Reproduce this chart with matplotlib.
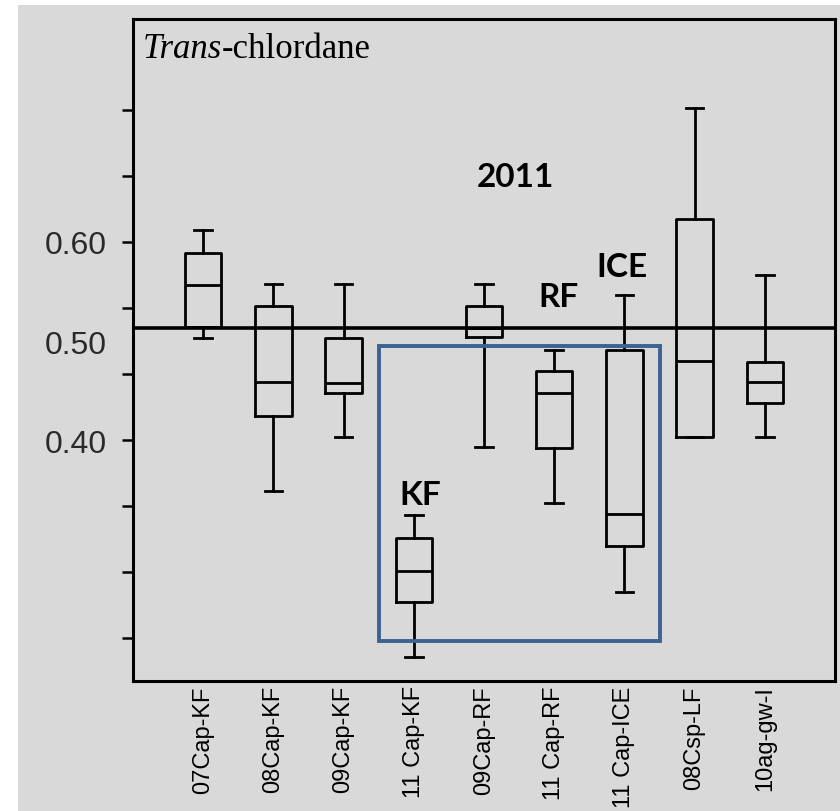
import numpy as np
import matplotlib
matplotlib.use("Agg")
import matplotlib.pyplot as plt
from matplotlib.patches import Rectangle

# Box statistics
labels = ['07Cap-KF', '08Cap-KF', '09Cap-KF', '11 Cap-KF', '09Cap-RF',
          '11 Cap-RF', '11 Cap-ICE', '08Csp-LF', '10ag-gw-I']
whislo = [0.503, 0.349, 0.403, 0.181, 0.393, 0.337, 0.247, 0.403, 0.403]
q1 = [0.514, 0.424, 0.448, 0.237, 0.504, 0.392, 0.293, 0.403, 0.438]
med = [0.557, 0.459, 0.458, 0.268, 0.513, 0.448, 0.3255, 0.480, 0.459]
q3 = [0.589, 0.535, 0.503, 0.301, 0.535, 0.470, 0.491, 0.623, 0.479]
whishi = [0.612, 0.558, 0.558, 0.3245, 0.558, 0.491, 0.547, 0.735, 0.567]

ref_level = 0.513
ytick_marks = [0.2, 0.2667, 0.3333, 0.4, 0.4667, 0.5333, 0.6, 0.6667, 0.7333]
ytick_labels = ['0.40', '0.50', '0.60']
ytick_label_pos = [0.4, 0.5, 0.6]

# group annotations
notes = ['2011', 'KF', 'RF', 'ICE']
note_x = [5.45, 4.09, 6.06, 6.97]
note_y = [0.666, 0.345, 0.5445, 0.575]

# highlighted 2011 region
hl_x = (3.51, 7.50)
hl_y = (0.197, 0.495)

grey = '#d9d9d9'

fig = plt.figure(figsize=(8.4, 8.12), dpi=100, facecolor='white')
fig.patches.append(Rectangle((18 / 840, 0), 1, 1 - 6 / 812, transform=fig.transFigure,
                             facecolor=grey, edgecolor='none', zorder=-10))
ax = fig.add_axes([133 / 840, 1 - 682 / 812, 702 / 840, 662 / 812])
ax.set_facecolor(grey)

stats = []
for i in range(len(labels)):
    stats.append(dict(label=labels[i], whislo=whislo[i], q1=q1[i], med=med[i],
                      q3=q3[i], whishi=whishi[i], fliers=[]))

pos = np.arange(1, len(labels) + 1)
lw = 2.0
ax.bxp(stats, positions=pos, widths=0.52, capwidths=0.25, showfliers=False,
       boxprops=dict(color='black', linewidth=lw),
       medianprops=dict(color='black', linewidth=lw),
       whiskerprops=dict(color='black', linewidth=lw),
       capprops=dict(color='black', linewidth=lw))

ax.axhline(ref_level, color='black', linewidth=2.6, zorder=3)

ax.add_patch(Rectangle((hl_x[0], hl_y[0]), hl_x[1] - hl_x[0], hl_y[1] - hl_y[0],
                       fill=False, edgecolor='#3d6190', linewidth=2.8, zorder=4))

ax.set_xlim(0, 10)
ax.set_ylim(0.157, 0.825)

# tick marks without labels, labels without marks
ax.set_yticks(ytick_marks)
ax.set_yticklabels([])
ax.set_yticks(ytick_label_pos, minor=True)
ax.set_yticklabels(ytick_labels, minor=True)
ax.yaxis.remove_overlapping_locs = False
ax.tick_params(axis='y', which='major', length=8, width=1.8, color='black')
ax.tick_params(axis='y', which='minor', length=0, pad=19, labelsize=23,
               labelcolor='#2a2a2a')
for t in ax.get_yticklabels(minor=True):
    t.set_fontfamily('Liberation Sans')

ax.set_xticks(pos)
ax.set_xticklabels(labels, rotation=90, fontsize=17, family='Liberation Sans')
ax.tick_params(axis='x', length=0, pad=3)

for s in ax.spines.values():
    s.set_linewidth(2.2)

# title inside the axes
t1 = ax.text(0.014, 0.93, 'Trans', transform=ax.transAxes, fontsize=25,
             family='Liberation Serif', style='italic', va='bottom', ha='left')
ax.annotate('-chlordane', xy=(1, 0), xycoords=t1, fontsize=25,
            family='Liberation Serif', va='bottom', ha='left')

for s, x, y in zip(notes, note_x, note_y):
    ax.text(x, y, s, fontsize=24, fontweight='bold', family='Lato',
            ha='center', va='center', zorder=5)

fig.savefig('out.png', dpi=100, facecolor=fig.get_facecolor())
